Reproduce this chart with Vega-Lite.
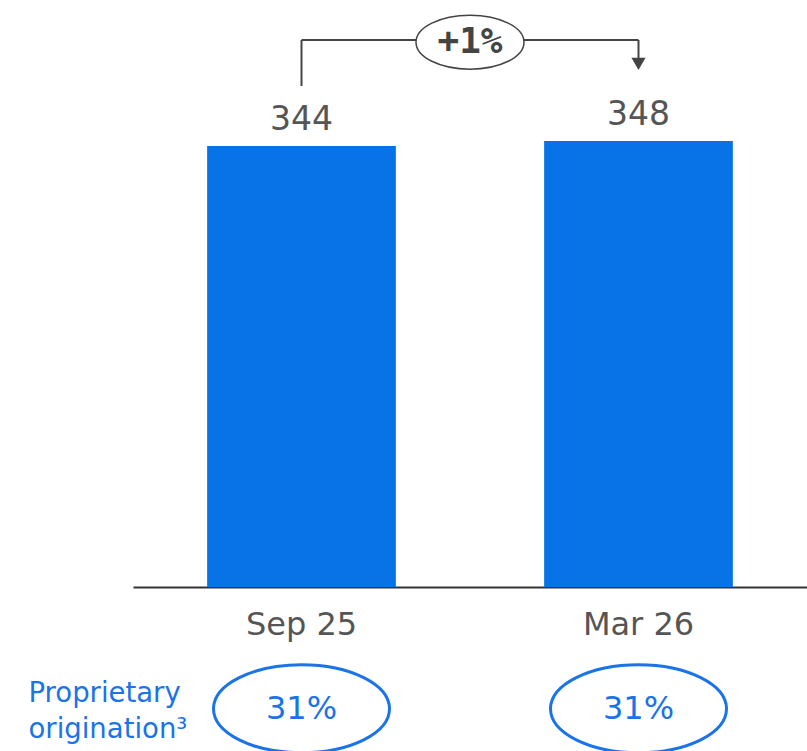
{
  "$schema": "https://vega.github.io/schema/vega-lite/v6.json",
  "width": 674,
  "height": 587,
  "padding": {"left": 28, "top": 0, "right": 0, "bottom": 0},
  "background": "white",
  "config": {
    "view": {"stroke": null},
    "scale": {"bandPaddingInner": 0.44, "bandPaddingOuter": 0.22},
    "font": "DejaVu Sans"
  },
  "datasets": {
    "bars": [
      {"period": "Sep 25", "value": 344, "proprietary": "31%"},
      {"period": "Mar 26", "value": 348, "proprietary": "31%"}
    ],
    "change": [
      {"from": "Sep 25", "to": "Mar 26", "label": "+1%"}
    ]
  },
  "resolve": {"scale": {"x": "independent"}, "axis": {"x": "independent"}},
  "layer": [
    {
      "layer": [
        {
          "data": {"name": "bars"},
          "mark": {"type": "bar", "color": "#0773E6"},
          "encoding": {
            "x": {
              "field": "period", "type": "nominal", "scale": {"domain": ["Sep 25", "Mar 26"]}, "title": null,
              "axis": {
                "labelFontSize": 32, "labelColor": "#555555", "labelPadding": 22, "ticks": false,
                "domainColor": "#333333", "domainWidth": 2, "labelAngle": 0, "labelFont": "DejaVu Sans"
              }
            },
            "y": {
              "field": "value", "type": "quantitative",
              "scale": {"domain": [0, 457.9], "nice": false},
              "axis": {
                "title": ["Proprietary", "origination³"],
                "labels": false, "ticks": false, "domain": false, "grid": false,
                "titleAngle": 0, "titleAlign": "left", "titleBaseline": "alphabetic",
                "titleX": -105, "titleY": 701, "titleColor": "#1A73E8", "titleFontSize": 27.5,
                "titleFontWeight": "normal", "titleLineHeight": 36, "titleFont": "DejaVu Sans"
              }
            }
          }
        },
        {
          "data": {"name": "bars"},
          "mark": {"type": "text", "dy": -16, "baseline": "alphabetic", "fontSize": 33, "color": "#555555"},
          "encoding": {
            "x": {"field": "period", "type": "nominal", "scale": {"domain": ["Sep 25", "Mar 26"]}, "title": null},
            "y": {"field": "value", "type": "quantitative", "scale": {"domain": [0, 457.9], "nice": false}},
            "text": {"field": "value", "type": "quantitative"}
          }
        },
        {
          "data": {"name": "change"},
          "mark": {"type": "rule", "color": "#444444", "strokeWidth": 2},
          "encoding": {
            "x": {"field": "from", "type": "nominal", "scale": {"domain": ["Sep 25", "Mar 26"]}, "title": null},
            "y": {"datum": 390.8, "type": "quantitative", "scale": {"domain": [0, 457.9], "nice": false}},
            "y2": {"datum": 426.7}
          }
        },
        {
          "data": {"name": "change"},
          "mark": {"type": "rule", "color": "#444444", "strokeWidth": 2},
          "encoding": {
            "x": {"field": "from", "type": "nominal", "scale": {"domain": ["Sep 25", "Mar 26"]}, "title": null},
            "x2": {"field": "to"},
            "y": {"datum": 426.7, "type": "quantitative", "scale": {"domain": [0, 457.9], "nice": false}}
          }
        },
        {
          "data": {"name": "change"},
          "mark": {"type": "rule", "color": "#444444", "strokeWidth": 2},
          "encoding": {
            "x": {"field": "to", "type": "nominal", "scale": {"domain": ["Sep 25", "Mar 26"]}, "title": null},
            "y": {"datum": 426.7, "type": "quantitative", "scale": {"domain": [0, 457.9], "nice": false}},
            "y2": {"datum": 410}
          }
        },
        {
          "data": {"name": "change"},
          "mark": {"type": "point", "shape": "triangle-down", "size": 200, "fill": "#444444", "stroke": null, "opacity": 1},
          "encoding": {
            "x": {"field": "to", "type": "nominal", "scale": {"domain": ["Sep 25", "Mar 26"]}, "title": null},
            "y": {"datum": 408, "type": "quantitative", "scale": {"domain": [0, 457.9], "nice": false}}
          }
        },
        {
          "data": {"name": "bars"},
          "mark": {"type": "point", "shape": "M-1,0A1,0.5,0,1,0,1,0A1,0.5,0,1,0,-1,0Z", "size": 30976, "fill": "white", "stroke": "#1A73E8", "strokeWidth": 3, "opacity": 1},
          "encoding": {
            "x": {"field": "period", "type": "nominal", "scale": {"domain": ["Sep 25", "Mar 26"]}, "title": null},
            "y": {"datum": -95, "type": "quantitative", "scale": {"domain": [0, 457.9], "nice": false}}
          }
        },
        {
          "data": {"name": "bars"},
          "mark": {"type": "text", "baseline": "middle", "fontSize": 32, "color": "#1A73E8"},
          "encoding": {
            "x": {"field": "period", "type": "nominal", "scale": {"domain": ["Sep 25", "Mar 26"]}, "title": null},
            "y": {"datum": -95, "type": "quantitative", "scale": {"domain": [0, 457.9], "nice": false}},
            "text": {"field": "proprietary", "type": "nominal"}
          }
        }
      ]
    },
    {
      "layer": [
        {
          "data": {"name": "change"},
          "mark": {"type": "point", "shape": "M-1,0A1,0.5,0,1,0,1,0A1,0.5,0,1,0,-1,0Z", "size": 11664, "fill": "white", "stroke": "#444444", "strokeWidth": 1.5, "opacity": 1},
          "encoding": {
            "x": {"datum": 0.5, "type": "quantitative", "scale": {"domain": [0, 1]}, "axis": null},
            "y": {"datum": 425, "type": "quantitative", "scale": {"domain": [0, 457.9], "nice": false}}
          }
        },
        {
          "data": {"name": "change"},
          "mark": {"type": "text", "baseline": "middle", "fontSize": 36, "fontWeight": "bold", "font": "DejaVu Sans Mono", "color": "#444444"},
          "encoding": {
            "x": {"datum": 0.5, "type": "quantitative", "scale": {"domain": [0, 1]}, "axis": null},
            "y": {"datum": 425, "type": "quantitative", "scale": {"domain": [0, 457.9], "nice": false}},
            "text": {"field": "label", "type": "nominal"}
          }
        }
      ]
    }
  ]
}
